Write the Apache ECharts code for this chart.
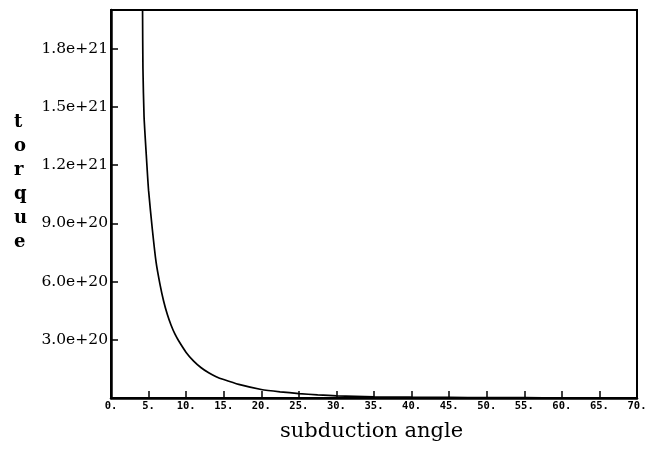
<!DOCTYPE html>
<html>
<head>
<meta charset="utf-8">
<script src="https://cdn.jsdelivr.net/npm/echarts@6/dist/echarts.min.js"></script>
<style>html,body{margin:0;padding:0;background:#fff;}#c{width:652px;height:460px;}</style>
</head>
<body>
<div id="c"></div>
<script>
// subduction angle (deg) and torque values
const angles = [4.20, 4.25, 4.40, 4.70, 5.0, 5.5, 6.0, 6.5, 7.0, 7.5, 8.0, 8.5, 9.0, 10, 11, 12, 13, 14, 15, 17, 20, 22.5, 25, 27.5, 30, 35, 40, 45, 50, 55, 60, 65, 70];
const torque = [2.0e21, 1.7e21, 1.45e21, 1.25e21, 1.07e21, 8.7e20, 7.0e20, 5.9e20, 5.0e20, 4.3e20, 3.75e20, 3.3e20, 2.95e20, 2.35e20, 1.9e20, 1.56e20, 1.3e20, 1.1e20, 9.5e19, 7.0e19, 4.4e19, 3.2e19, 2.3e19, 1.6e19, 1.1e19, 6e18, 4e18, 3e18, 2e18, 1.5e18, 1e18, 8e17, 5e17];
const xTickValues = [0,5,10,15,20,25,30,35,40,45,50,55,60,65,70];
const yTickLabels = ['3.0e+20','6.0e+20','9.0e+20','1.2e+21','1.5e+21','1.8e+21'];
const xTitle = 'subduction angle';
const yTitle = 'torque';

const points = angles.map((a, i) => [a, torque[i]]);
const chart = echarts.init(document.getElementById('c'), null, {renderer: 'canvas'});
chart.setOption({
  animation: false,
  backgroundColor: '#fff',
  grid: {left: 111, right: 15, top: 10, bottom: 62, show: true, borderColor: '#000', borderWidth: 2, backgroundColor: 'transparent'},
  xAxis: {
    type: 'value', min: 0, max: 70, interval: 5,
    axisLine: {show: true, lineStyle: {color: '#000', width: 2.5}},
    axisTick: {show: true, inside: true, length: 7, lineStyle: {color: '#000', width: 1.5}},
    splitLine: {show: false},
    axisLabel: {
      show: true, showMinLabel: true, showMaxLabel: true, margin: 3,
      color: '#000', fontFamily: 'DejaVu Sans Mono', fontWeight: 'bold', fontSize: 10.5,
      formatter: v => xTickValues.includes(Math.round(v)) ? Math.round(v) + '.' : ''
    }
  },
  yAxis: {
    type: 'value', min: 0, max: 2.0e21, interval: 3e20,
    axisLine: {show: true, lineStyle: {color: '#000', width: 2.5}},
    axisTick: {show: true, inside: true, length: 7, lineStyle: {color: '#000', width: 1.5}},
    splitLine: {show: false},
    axisLabel: {
      show: true, margin: 3, color: '#000', fontFamily: 'DejaVu Serif', fontSize: 15.5,
      formatter: v => {
        const k = Math.round(v / 3e20);
        if (k < 1 || k > yTickLabels.length || Math.abs(v - k * 3e20) > 1e19) return '';
        return yTickLabels[k - 1];
      }
    }
  },
  series: [{
    type: 'line', data: points, showSymbol: false, smooth: 0.2, clip: true,
    lineStyle: {color: '#000', width: 1.7}
  }],
  graphic: [
    {type: 'text', left: 280, top: 421, style: {text: xTitle, font: '21px "DejaVu Serif"', fill: '#000'}},
    {type: 'text', left: 14, top: 110, style: {text: yTitle.split('').join('\n'), font: 'bold 18px "DejaVu Serif"', lineHeight: 24, align: 'center', fill: '#000'}}
  ]
});
</script>
</body>
</html>
